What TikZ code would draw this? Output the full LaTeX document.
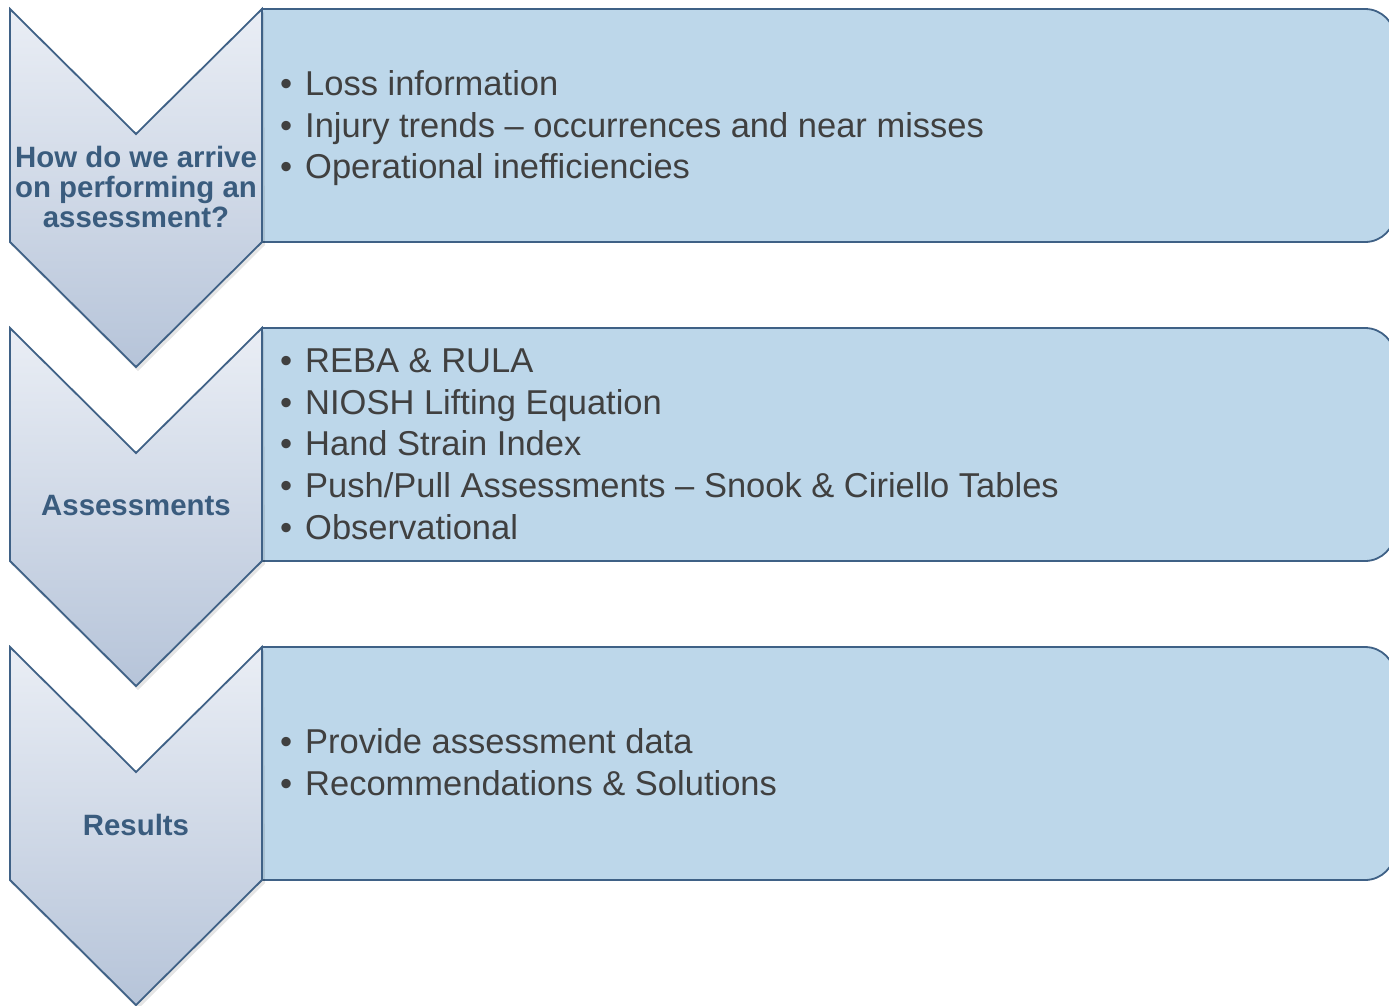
\documentclass[tikz,border=0pt]{standalone}
\usepackage{fontspec}
\setmainfont{Liberation Sans}
\definecolor{rectfill}{HTML}{BDD7EA}
\definecolor{edgeblue}{HTML}{3F6186}
\definecolor{chevtop}{HTML}{EAEEF5}
\definecolor{chevbot}{HTML}{B6C4D9}
\definecolor{chevtext}{HTML}{3A5C7E}
\definecolor{bultext}{HTML}{404040}
\tikzset{
  rectbox/.style={draw=edgeblue, line width=1.8pt, fill=rectfill},
  chevbox/.style={draw=edgeblue, line width=1.8pt, top color=chevtop, bottom color=chevbot, line join=miter},
  chevshadow/.style={fill=black, opacity=0.10},
  chevlabel/.style={font=\fontsize{29.4}{30}\selectfont\bfseries, text=chevtext, align=center, inner sep=0pt},
  bulline/.style={font=\fontsize{34.5}{41.5}\selectfont, text=bultext, anchor=base west, inner sep=0pt}
}
\newcommand{\bul}[1]{\makebox[25pt][l]{\textbullet}#1}
\begin{document}
\begin{tikzpicture}[x=1pt,y=1pt]
\useasboundingbox (0,0) rectangle (1389,-1005);
\clip (0,0) rectangle (1389,-1005);
% rounded rectangles
\foreach \t/\nm in {9/r1,328/r2,647/r3}{
  \pgfmathsetmacro{\b}{\t+233}
  \draw[rectbox] (262,-\t) -- (1365,-\t) arc (90:0:30) -- (1395,-\b+30) arc (0:-90:30) -- (262,-\b) -- cycle;
}
% chevrons
\foreach \t in {9,328,647}{
  \pgfmathsetmacro{\n}{\t+125}
  \pgfmathsetmacro{\s}{\t+233}
  \pgfmathsetmacro{\p}{\t+358}
  \fill[chevshadow] (12,-\t-3) -- (138,-\n-3) -- (264,-\t-3) -- (265,-\s-3) -- (138,-\p-4) -- (11,-\s-3) -- cycle;
  \draw[chevbox] (10,-\t) -- (136,-\n) -- (262,-\t) -- (262,-\s) -- (136,-\p) -- (10,-\s) -- cycle;
}
% chevron labels
\node[chevlabel] (c1) at (136,-187) {How do we arrive\\on performing an\\assessment?};
\node[chevlabel] (c2) at (136,-506) {Assessments};
\node[chevlabel] (c3) at (136,-825) {Results};
% bullets box 1
\node[bulline] (a1) at (280,-95) {\bul{Loss information}};
\node[bulline] (a2) at (280,-137) {\bul{Injury trends – occurrences and near misses}};
\node[bulline] (a3) at (280,-178) {\bul{Operational inefficiencies}};
% box 2
\node[bulline] (b1) at (280,-372) {\bul{REBA \& RULA}};
\node[bulline] (b2) at (280,-414) {\bul{NIOSH Lifting Equation}};
\node[bulline] (b3) at (280,-455) {\bul{Hand Strain Index}};
\node[bulline] (b4) at (280,-497) {\bul{Push/Pull Assessments – Snook \& Ciriello Tables}};
\node[bulline] (b5) at (280,-539) {\bul{Observational}};
% box 3
\node[bulline] (d1) at (280,-753) {\bul{Provide assessment data}};
\node[bulline] (d2) at (280,-795) {\bul{Recommendations \& Solutions}};
\end{tikzpicture}
\end{document}
